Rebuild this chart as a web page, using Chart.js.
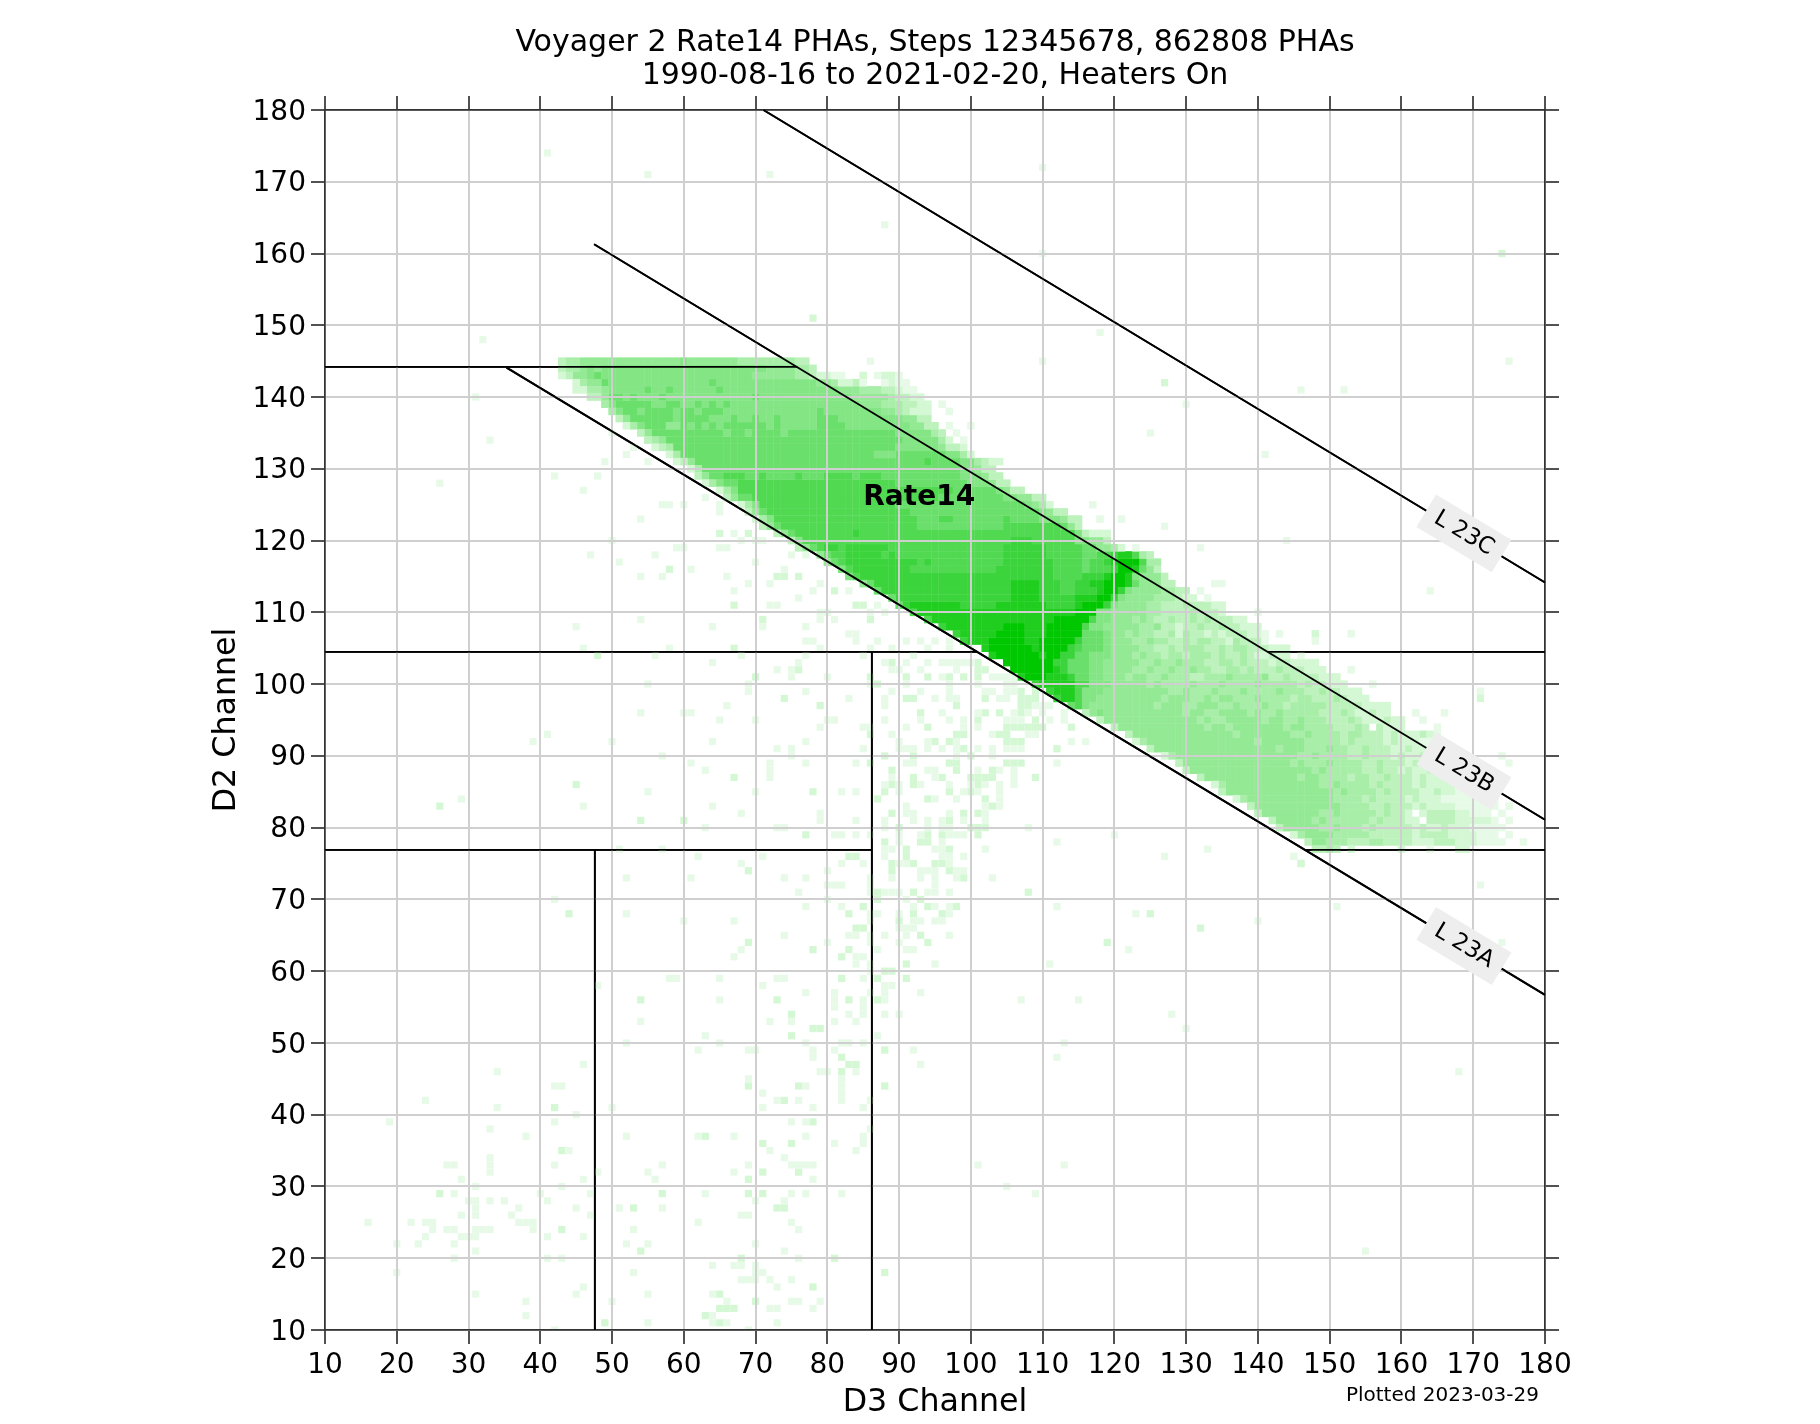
<!DOCTYPE html>
<html>
<head>
<meta charset="utf-8">
<title>Voyager 2 Rate14 PHAs</title>
<script src="https://cdn.jsdelivr.net/npm/chart.js@4/dist/chart.umd.js"></script>
<style>
    html, body { margin: 0; padding: 0; background: #fff; }
    canvas { display: block; }
</style>
</head>
<body>
<canvas id="chart" width="1820" height="1424"></canvas>
<script>
const titleLines = ["Voyager 2 Rate14 PHAs, Steps 12345678, 862808 PHAs", "1990-08-16 to 2021-02-20, Heaters On"];
const xAxisTitle = "D3 Channel";
const yAxisTitle = "D2 Channel";
const plottedNote = "Plotted 2023-03-29";

// colour of each count level, 0 = empty cell
const levelColors = [null, "#e7fae7", "#d4f7d4", "#bdf2bd", "#a8eea8", "#94e994", "#84e584", "#6bdf6b", "#52d952", "#3cd43c", "#20ce20", "#00c800"];

// band rows: y, then pairs of first x and level, 0 closes the run
const bandRuns = [
    [145, 43,3, 44,4, 46,5, 60,6, 61,5, 68,4, 76,3, 78,0],
    [144, 43,3, 44,4, 46,5, 47,6, 48,5, 49,6, 72,5, 76,4, 78,3, 79,0],
    [143, 43,2, 44,3, 45,5, 47,6, 48,7, 49,6, 70,5, 76,4, 78,3, 79,2, 81,1, 83,0, 85,2, 86,0, 87,1, 88,2, 90,1, 91,0],
    [142, 45,2, 46,4, 47,5, 49,7, 50,6, 64,7, 65,6, 79,5, 81,4, 82,2, 84,3, 85,1, 86,0, 88,1, 89,2, 90,1, 92,0],
    [141, 45,2, 47,4, 49,5, 50,6, 55,7, 56,6, 58,7, 59,6, 65,7, 66,6, 82,5, 85,4, 88,3, 90,2, 91,1, 93,0],
    [140, 47,3, 49,5, 50,7, 52,6, 53,7, 54,6, 57,7, 58,6, 70,7, 71,6, 84,5, 89,4, 90,3, 92,2, 94,0],
    [139, 49,4, 50,6, 51,7, 56,6, 58,7, 60,6, 62,7, 63,6, 64,7, 65,6, 66,7, 67,6, 85,5, 88,4, 91,3, 93,2, 95,0, 96,1, 97,0],
    [138, 50,4, 51,6, 52,7, 54,6, 55,7, 59,6, 60,7, 62,6, 63,7, 66,6, 79,7, 80,6, 88,5, 90,4, 91,3, 92,2, 95,0, 97,1, 98,0],
    [137, 51,3, 52,5, 53,7, 59,6, 60,7, 64,6, 67,7, 68,6, 70,7, 71,6, 73,7, 74,6, 79,7, 82,6, 91,5, 93,3, 95,0],
    [136, 52,2, 53,4, 54,6, 55,7, 58,5, 60,7, 61,6, 62,7, 63,6, 64,7, 65,6, 66,7, 72,6, 73,7, 74,6, 79,7, 83,6, 92,5, 94,3, 96,0, 97,1, 98,0, 100,1, 101,0],
    [135, 54,3, 55,5, 56,7, 66,6, 67,7, 69,6, 70,7, 74,6, 75,7, 90,6, 95,4, 96,3, 97,0, 98,1, 99,0],
    [134, 55,3, 56,4, 57,5, 58,7, 91,6, 96,4, 97,2, 98,0, 99,1, 100,0],
    [133, 56,2, 57,3, 58,4, 59,7, 90,6, 96,5, 97,3, 99,2, 100,0],
    [132, 58,2, 59,4, 60,7, 87,6, 90,7, 97,6, 99,4, 100,2, 101,0],
    [131, 59,2, 60,3, 61,5, 62,7, 94,8, 95,7, 99,6, 101,4, 102,3, 103,2, 105,0],
    [130, 61,2, 62,4, 63,7, 99,6, 101,5, 102,3, 104,0],
    [129, 62,3, 63,5, 64,7, 66,8, 69,7, 71,8, 72,7, 76,8, 77,7, 80,8, 84,7, 85,8, 88,7, 99,6, 102,5, 103,3, 105,0],
    [128, 63,2, 64,4, 65,6, 66,7, 68,8, 90,7, 100,6, 103,5, 104,3, 106,0],
    [127, 65,2, 66,4, 67,6, 68,8, 98,7, 104,6, 105,5, 106,3, 108,0],
    [126, 66,3, 67,5, 68,7, 70,8, 96,7, 105,6, 107,5, 109,3, 111,0],
    [125, 68,2, 69,4, 70,6, 71,8, 90,7, 108,6, 109,5, 110,4, 111,2, 112,0, 117,1, 118,0],
    [124, 69,3, 70,5, 71,7, 72,8, 92,7, 110,6, 111,5, 112,3, 114,0],
    [123, 70,2, 71,4, 72,6, 73,8, 93,7, 96,8, 98,7, 105,8, 106,7, 110,6, 113,5, 114,3, 116,0, 118,1, 119,0, 121,1, 122,0],
    [122, 71,3, 72,5, 73,7, 74,8, 93,7, 105,8, 113,7, 114,5, 115,3, 116,0],
    [121, 73,3, 74,5, 75,7, 76,8, 84,9, 85,8, 115,6, 116,3, 117,2, 120,0],
    [120, 75,3, 76,6, 77,8, 106,9, 109,8, 115,6, 117,5, 119,3, 120,0],
    [119, 76,3, 77,5, 78,7, 79,8, 80,9, 82,8, 83,9, 89,8, 105,9, 111,8, 116,7, 118,5, 120,4, 121,2, 122,0, 123,1, 124,0],
    [118, 79,5, 80,7, 81,8, 83,9, 88,8, 89,9, 90,8, 105,9, 111,8, 116,7, 118,8, 120,9, 121,10, 123,8, 124,4, 125,3, 126,0],
    [117, 80,5, 81,7, 82,8, 83,9, 93,8, 94,9, 95,8, 105,9, 112,8, 116,7, 117,8, 119,9, 120,10, 121,11, 124,8, 125,4, 127,0],
    [116, 82,6, 83,8, 84,9, 92,8, 104,9, 112,8, 116,7, 117,8, 120,9, 121,11, 123,10, 124,7, 125,5, 126,3, 127,0],
    [115, 83,6, 84,8, 85,9, 112,8, 116,9, 119,10, 120,11, 122,10, 123,6, 124,5, 127,3, 128,0],
    [114, 85,5, 86,7, 87,9, 106,10, 110,9, 113,8, 115,9, 117,10, 119,11, 122,10, 123,7, 124,5, 127,3, 129,0, 134,1, 135,0],
    [113, 87,7, 88,9, 106,10, 110,9, 113,8, 115,9, 118,10, 119,11, 121,9, 122,6, 123,5, 127,4, 129,3, 131,0, 132,1, 133,0],
    [112, 89,7, 90,9, 106,10, 110,9, 115,10, 118,11, 120,9, 121,6, 122,5, 126,4, 129,3, 130,2, 132,0, 133,1, 134,0],
    [111, 90,7, 91,9, 92,10, 99,9, 104,10, 111,9, 115,10, 116,11, 119,9, 120,6, 121,5, 125,4, 127,3, 130,4, 131,3, 134,2, 136,0],
    [110, 92,8, 93,10, 115,11, 118,6, 120,5, 125,4, 127,3, 131,4, 132,3, 135,2, 136,0, 140,1, 141,0],
    [109, 94,8, 95,10, 112,11, 117,8, 118,6, 120,5, 123,4, 124,5, 125,4, 126,3, 128,4, 129,3, 131,4, 132,3, 133,4, 134,3, 137,2, 139,0],
    [108, 96,9, 97,10, 105,11, 108,10, 111,11, 116,8, 117,6, 119,5, 124,4, 126,5, 127,3, 129,2, 130,3, 132,4, 133,3, 135,4, 136,3, 138,2, 141,0],
    [107, 98,9, 99,10, 104,11, 108,10, 111,11, 116,7, 119,6, 120,5, 122,4, 123,5, 124,4, 126,3, 128,4, 129,2, 130,4, 131,3, 133,2, 134,3, 135,2, 136,3, 139,2, 141,1, 142,0, 143,1, 144,0, 148,2, 149,0, 153,1, 154,0],
    [106, 99,9, 100,10, 103,11, 108,10, 110,11, 115,9, 116,7, 119,6, 120,5, 123,4, 125,5, 126,4, 128,3, 130,4, 131,3, 132,4, 134,3, 136,2, 137,4, 138,3, 141,1, 142,0, 148,1, 149,0],
    [105, 102,10, 103,11, 109,10, 110,11, 114,9, 115,8, 116,7, 119,6, 120,5, 124,4, 126,3, 128,4, 129,3, 130,4, 133,3, 135,4, 136,3, 137,4, 139,3, 142,2, 145,0],
    [104, 103,10, 104,11, 110,10, 111,11, 113,9, 115,7, 117,6, 120,5, 123,4, 124,5, 125,4, 127,3, 128,4, 130,3, 131,4, 134,3, 135,4, 136,3, 138,4, 139,3, 140,2, 142,3, 143,2, 145,0, 146,1, 147,0],
    [103, 105,11, 112,9, 114,7, 117,6, 119,5, 124,4, 126,5, 127,4, 129,5, 130,4, 133,3, 135,4, 137,3, 138,4, 139,3, 142,2, 143,3, 145,2, 149,0],
    [102, 106,11, 112,10, 113,9, 114,7, 117,6, 119,5, 123,4, 125,5, 126,4, 128,5, 129,4, 131,5, 132,4, 134,3, 136,4, 138,3, 139,4, 140,3, 143,4, 144,3, 147,2, 150,0, 153,1, 154,0],
    [101, 107,10, 108,11, 111,10, 114,9, 115,7, 117,6, 119,5, 122,4, 123,5, 125,4, 127,5, 128,4, 131,3, 133,4, 136,5, 137,4, 141,5, 142,3, 144,4, 145,3, 149,2, 152,0],
    [100, 109,9, 110,10, 115,8, 117,6, 120,5, 125,4, 126,5, 127,4, 131,5, 132,4, 135,5, 136,4, 140,5, 141,4, 146,3, 147,4, 148,3, 150,2, 153,0, 156,1, 157,0],
    [99, 111,9, 112,10, 115,8, 116,6, 119,5, 128,4, 130,5, 131,4, 134,5, 135,4, 138,5, 139,4, 143,5, 144,4, 147,3, 149,4, 150,3, 152,2, 155,0, 171,1, 172,0],
    [98, 112,9, 113,10, 115,8, 116,6, 118,5, 127,4, 128,5, 131,4, 133,5, 134,4, 135,5, 137,4, 140,5, 141,4, 145,3, 146,4, 148,3, 151,4, 152,3, 153,2, 156,0],
    [97, 114,7, 115,8, 116,6, 117,5, 126,4, 127,5, 130,4, 132,5, 135,4, 137,5, 138,4, 141,5, 142,4, 144,3, 145,4, 150,3, 155,2, 159,0],
    [96, 116,3, 117,5, 118,6, 119,5, 130,4, 131,5, 133,4, 135,5, 139,4, 140,5, 141,4, 143,5, 144,4, 149,3, 152,4, 153,3, 154,2, 156,3, 157,2, 159,0, 162,1, 163,0, 166,1, 167,0],
    [95, 118,3, 119,5, 132,4, 133,5, 134,4, 136,5, 141,4, 142,5, 144,4, 146,5, 147,4, 150,3, 153,4, 154,3, 155,2, 158,3, 159,2, 161,0, 163,1, 164,0],
    [94, 120,3, 121,5, 133,4, 134,5, 136,4, 137,5, 144,4, 145,5, 147,4, 151,3, 154,4, 155,3, 156,0, 157,3, 158,2, 161,0, 165,1, 166,0],
    [93, 122,3, 123,5, 137,4, 138,5, 145,4, 147,5, 148,4, 152,3, 153,4, 155,3, 158,2, 159,3, 160,2, 163,3, 164,2, 165,1, 166,0],
    [92, 123,2, 124,4, 125,5, 140,4, 141,5, 147,4, 152,3, 153,4, 154,3, 158,2, 159,3, 160,2, 163,1, 166,0],
    [91, 125,3, 126,5, 143,4, 144,5, 147,4, 150,5, 151,4, 153,3, 155,4, 156,3, 159,2, 161,3, 162,2, 164,1, 165,2, 166,0],
    [90, 127,2, 128,4, 129,5, 146,4, 148,5, 149,4, 153,3, 155,4, 156,3, 159,2, 160,3, 161,2, 163,3, 164,2, 167,1, 168,0, 174,1, 175,0],
    [89, 129,3, 130,5, 145,4, 146,5, 147,4, 150,5, 151,4, 155,3, 157,4, 158,3, 161,2, 162,3, 163,2, 166,1, 169,0],
    [88, 130,3, 131,5, 148,4, 149,5, 150,4, 155,3, 157,4, 158,3, 160,2, 161,3, 162,2, 164,3, 165,2, 168,1, 171,0],
    [87, 132,3, 133,5, 146,4, 147,5, 149,4, 153,3, 154,4, 156,3, 158,4, 159,3, 162,2, 163,3, 164,2, 168,1, 172,0],
    [86, 134,2, 135,4, 136,5, 149,4, 151,5, 152,4, 156,3, 157,4, 158,3, 162,2, 163,3, 164,2, 168,1, 173,0],
    [85, 135,3, 136,5, 151,4, 152,5, 153,4, 157,3, 158,4, 159,3, 163,2, 165,3, 166,2, 168,1, 173,0],
    [84, 137,2, 138,4, 139,5, 151,4, 155,3, 156,4, 157,3, 161,2, 162,3, 163,2, 166,1, 174,0],
    [83, 139,3, 140,5, 152,4, 156,3, 158,4, 159,3, 162,2, 163,3, 164,2, 168,1, 174,0, 175,1, 176,0],
    [82, 140,3, 141,5, 149,4, 151,5, 152,4, 157,3, 158,4, 159,3, 161,2, 162,0, 163,2, 164,3, 168,2, 170,1, 173,0, 174,1, 175,0],
    [81, 142,3, 143,5, 148,4, 149,5, 150,4, 156,3, 157,4, 158,3, 161,2, 163,0, 164,3, 168,2, 173,1, 174,0, 175,1, 176,0],
    [80, 143,3, 144,5, 149,4, 151,5, 152,4, 155,3, 156,4, 157,3, 162,2, 163,3, 164,2, 166,3, 167,2, 170,1, 175,0],
    [79, 145,2, 146,4, 147,5, 151,4, 156,3, 162,2, 163,3, 167,2, 171,1, 174,0, 175,1, 176,0],
    [78, 147,3, 148,5, 150,4, 153,3, 156,4, 158,3, 162,2, 165,3, 168,2, 171,1, 175,0, 177,1, 178,0],
    [77, 148,3, 150,4, 151,3, 152,0, 153,2, 154,0, 160,2, 161,0, 164,1, 165,0, 168,2, 170,0],
    [76, 145,1, 146,0],
    [75, 146,2, 147,0],
];

// scattered single cells, each row is y then the x values
const faintCells = [
    [174, 41], [172, 110], [171, 55, 72], [164, 88], [160, 110], [149, 118], [148, 32],
    [145, 86, 110, 175], [141, 146, 152], [140, 31], [139, 130], [135, 125, 50], [134, 33], [133, 53], [132, 141, 52],
    [131, 49, 55], [129, 42, 48], [128, 26], [127, 46], [126, 63], [125, 57, 58, 60, 65], [124, 65], [123, 54],
    [122, 127], [121, 67], [120, 50, 68, 70, 71, 144], [119, 59, 60, 65, 66, 132], [118, 47, 56, 75, 77],
    [117, 51, 70], [116, 61, 74], [115, 54, 57, 66], [114, 69, 72, 79, 135], [113, 67, 78, 83, 164], [112, 76],
    [111, 72, 73, 87], [110, 79, 80, 86, 88], [109, 54, 79, 81], [108, 45, 64, 71, 77], [107, 83, 84],
    [106, 77, 78, 84, 87, 91, 93, 95, 97], [105, 46, 58, 79, 86, 89, 94, 97], [104, 56, 68, 77, 85, 92],
    [103, 64, 76, 88, 91, 94, 96, 97, 98, 99, 100], [102, 73, 75, 89, 90, 93, 98],
    [101, 75, 80, 96, 103, 104, 105, 106], [100, 55, 69, 86, 91, 97, 101, 105, 106],
    [99, 69, 77, 89, 93, 97, 102, 103, 105, 106], [98, 83, 88, 95, 97, 98, 104, 105],
    [97, 66, 88, 109, 110, 111], [96, 54, 60, 61, 96, 101, 106, 108, 110, 113],
    [95, 65, 70, 80, 81, 88, 93, 97, 99, 105, 106, 107, 111, 113], [94, 79, 85, 86, 91, 99, 101],
    [93, 41, 89, 103, 108, 109], [92, 39, 50, 64, 77, 90, 94, 98, 114, 116],
    [91, 73, 75, 85, 90, 91, 92, 94, 96, 98, 101, 103, 105, 106, 107], [90, 57, 75, 98, 103],
    [89, 61, 72, 77, 84, 91, 92, 112, 175], [88, 63, 72, 94, 95, 101, 104, 106], [87, 72, 89, 95, 106],
    [86, 88, 90, 93, 97, 100, 102, 104, 106], [85, 55, 70, 82, 84, 90, 99, 101, 104], [84, 29, 95, 98, 104],
    [83, 46, 64, 91, 102, 104], [82, 68, 79, 91, 92, 97, 102], [81, 79, 84, 88, 92, 94, 96, 99, 102],
    [80, 63, 73, 74, 88, 94, 96, 97, 108], [79, 81, 82, 84, 86, 90, 93, 97, 98, 99, 120], [78, 90, 96, 112],
    [77, 51, 57, 88, 89, 95, 96, 102, 133], [76, 62, 71, 88, 96, 97, 99, 127], [75, 68, 82, 85, 90, 91, 97],
    [74, 80, 93, 94, 95, 98, 99], [73, 52, 61, 74, 77, 86, 89, 93, 95, 98, 103], [72, 80, 81, 82, 86, 95, 171],
    [71, 76, 86, 88, 89, 90, 94, 95, 97], [70, 42, 80, 91], [69, 77, 82, 92, 95, 97, 112, 151],
    [68, 52, 86, 87, 90, 97, 123], [67, 60, 67, 86, 92, 93, 95, 96, 140], [66, 91, 90, 92],
    [65, 74, 83, 84, 86, 88, 91, 97], [64, 80, 86, 90, 174], [63, 68, 87, 91, 92, 122], [62, 67, 84, 85],
    [61, 84, 86, 95, 111], [60, 86], [59, 58, 59, 65, 73, 74, 85], [58, 48, 71, 88, 89], [57, 77, 81, 86, 88, 93],
    [56, 65, 81, 85, 88, 107, 115], [55, 81, 85], [54, 83, 85, 88, 90, 128], [53, 54, 72, 75, 81, 84], [52, 130],
    [51, 63, 87], [50, 52, 65, 77, 82, 83, 85, 113], [49, 62, 69, 70, 78, 81, 92], [48, 78, 112], [47, 46, 93],
    [46, 34, 79, 80, 84, 168], [45, 69, 82], [44, 42, 43, 77, 82], [43, 71, 82], [42, 24, 73, 76, 82, 86],
    [41, 34, 50, 71, 78, 85], [40, 45], [39, 19, 42, 75, 77], [38, 33, 86], [37, 38, 52, 62, 67, 77, 85],
    [36, 81, 85], [35, 44, 72, 84], [34, 33, 74], [33, 27, 28, 33, 42, 57, 69, 75, 76, 77, 78, 101, 113],
    [32, 33, 48, 55, 67], [31, 29, 46, 56, 78], [30, 31, 43, 105], [29, 28, 40, 47, 63, 75, 77, 82, 109],
    [28, 30, 31, 33, 35, 41, 70, 74], [27, 31, 37, 45, 51, 57], [26, 29, 31, 36, 47, 68, 69],
    [25, 16, 22, 24, 25, 37, 38, 39, 62, 75], [24, 25, 27, 28, 31, 32, 33, 39, 53, 76], [23, 24, 29, 30, 31, 41, 46],
    [22, 20, 23, 28, 52, 55, 70], [21, 31, 74, 155], [20, 28, 41, 43, 76], [19, 64, 67, 68, 70], [18, 20, 53, 70, 71],
    [17, 68, 69, 70, 72, 75], [16, 46, 73], [15, 31, 45, 55, 64], [14, 38, 50, 66, 75, 76, 79], [13, 72, 73, 78],
    [12, 38, 64], [11, 55, 64, 66, 73], [10, 42, 69],
];
const paleCells = [
    [160, 174], [151, 78], [142, 127], [121, 65, 69], [116, 58], [115, 73, 74, 76], [113, 81], [111, 67, 84, 85],
    [109, 71, 86], [105, 67], [104, 48], [103, 89, 101], [102, 76, 101, 102], [101, 70, 86, 91, 94, 97, 99, 101],
    [100, 87], [99, 107, 109], [98, 74, 91, 92, 102, 107, 108, 109, 171], [97, 79, 98, 107, 108],
    [96, 93, 102, 104, 107], [95, 101, 109], [94, 94, 105, 106, 107, 108, 109, 110, 114], [93, 86, 98, 99, 104, 105],
    [92, 95, 97, 105, 106, 107], [91, 99, 112], [90, 88, 92, 100], [89, 86, 97, 98, 105, 106, 107],
    [88, 89, 98, 103], [87, 67, 92, 96, 100, 101, 102, 103, 109], [86, 45, 89, 92, 101], [85, 78, 88, 97, 100],
    [84, 87, 94, 102], [83, 26, 103], [82, 89, 99, 101], [81, 54, 60, 97], [80, 90, 100, 101, 102],
    [79, 77, 94, 96, 101], [78, 88, 93, 94], [77, 91, 97], [76, 83, 84, 91], [75, 89, 92, 95, 96], [74, 69, 89, 97],
    [73, 99], [71, 87, 92, 108], [70, 87, 93], [69, 85, 94, 98], [68, 44, 83, 92, 96, 125], [67, 90],
    [66, 84, 85, 132], [65, 93], [64, 69, 94, 119], [63, 78, 83], [62, 82], [61, 91], [60, 88, 89],
    [59, 82, 87, 91], [56, 54, 73, 83, 87], [54, 75], [52, 78, 79], [51, 75], [49, 88], [48, 82], [47, 83, 84],
    [46, 82], [44, 69, 76, 88], [42, 74], [41, 42], [39, 78], [37, 63], [36, 71, 75], [35, 43], [32, 71, 76],
    [31, 69], [29, 26, 57, 69, 71], [27, 53, 73, 74], [24, 43], [21, 54], [20, 68, 81], [18, 88], [16, 78], [15, 65],
    [14, 70], [13, 65, 66, 67], [12, 63], [11, 49, 65],
];

// discriminator lines, as x pair and y pair
const lineL23A = { x: [35.3, 180], y: [144.1, 56.7] };
const lineL23B = { x: [47.5, 180], y: [161.3, 81.1] };
const lineL23C = { x: [71.1, 180], y: [180, 114.15] };
const extraLines = [
    { x: [10, 75.8], y: [144.2, 144.2] },
    { x: [10, 100.9], y: [104.5, 104.5] },
    { x: [141.4, 180], y: [104.5, 104.5] },
    { x: [10, 86.2], y: [76.9, 76.9] },
    { x: [146.5, 180], y: [76.9, 76.9] },
    { x: [86.2, 86.2], y: [104.5, 10] },
    { x: [47.6, 47.6], y: [76.9, 10] },
];
const lineLabels = [
    { text: "L 23A", x: 168.7, y: 63.5 },
    { text: "L 23B", x: 168.7, y: 87.9 },
    { text: "L 23C", x: 168.7, y: 121 },
];
const regionLabel = { text: "Rate14", x: 92.8, y: 126 };

const FONT = "'DejaVu Sans'";

function buildCellDatasets() {
    const bandCells = levelColors.map(() => []);
    bandRuns.forEach((row) => {
        const y = row[0];
        for (let i = 1; i < row.length - 2; i += 2) {
            for (let x = row[i]; x < row[i + 2]; x += 1) {
                if (row[i + 1] > 0) bandCells[row[i + 1]].push({ x, y });
            }
        }
    });

    const datasets = [];
    const addSparse = (rows, level) => {
        const data = [];
        rows.forEach((row) => row.slice(1).forEach((x) => data.push({ x, y: row[0] })));
        datasets.push(cellDataset(data, level, 5.08));
    };
    addSparse(faintCells, 1);
    addSparse(paleCells, 2);
    // band cells overlap a hair so no white seams show between them
    bandCells.forEach((data, level) => {
        if (level > 0) datasets.push(cellDataset(data, level, 5.35));
    });
    return datasets;
}

function cellDataset(data, level, radius) {
    return {
        label: `level ${level}`,
        data,
        showLine: false,
        pointStyle: "rect",
        pointRadius: radius,
        pointHoverRadius: radius,
        pointBorderWidth: 0,
        pointBackgroundColor: levelColors[level],
        backgroundColor: levelColors[level],
    };
}

function lineDataset(line) {
    return {
        label: "line",
        isGuide: true,
        data: line.x.map((x, i) => ({ x, y: line.y[i] })),
        showLine: true,
        borderColor: "#000",
        borderWidth: 1.8,
        pointRadius: 0,
        fill: false,
    };
}

// grid sits above the cells, so guides and labels go back on top of it
const overlayPlugin = {
    id: "overlay",
    beforeDraw(chart) {
        // y tick digits sit a little high with the middle baseline
        chart.scales.y.getLabelItems().forEach((item) => {
            item.options.translation[1] += 2.3;
        });
    },
    afterDraw(chart) {
        const { ctx, scales } = chart;
        chart.data.datasets.forEach((dataset, i) => {
            if (dataset.isGuide) chart.getDatasetMeta(i).controller.draw();
        });

        ctx.save();
        ctx.textAlign = "center";
        ctx.textBaseline = "middle";
        ctx.fillStyle = "#000";
        ctx.font = `bold 28px ${FONT}`;
        ctx.fillText(regionLabel.text, scales.x.getPixelForValue(regionLabel.x), scales.y.getPixelForValue(regionLabel.y));

        lineLabels.forEach((label) => {
            ctx.save();
            ctx.translate(scales.x.getPixelForValue(label.x), scales.y.getPixelForValue(label.y));
            ctx.rotate(31 * Math.PI / 180);
            ctx.fillStyle = "#eeeeee";
            ctx.fillRect(-44, -19, 88, 38);
            ctx.fillStyle = "#000";
            ctx.font = `23px ${FONT}`;
            ctx.fillText(label.text, 0, 0);
            ctx.restore();
        });

        ctx.textAlign = "right";
        ctx.font = `20px ${FONT}`;
        ctx.fillText(plottedNote, chart.chartArea.right - 6, 1396);
        ctx.restore();
    },
};

function axisOptions(position, showLabels, gridOnArea, title, size) {
    return {
        type: "linear",
        position,
        min: 10,
        max: 180,
        grid: {
            display: true,
            drawOnChartArea: gridOnArea,
            drawTicks: true,
            tickLength: 14,
            tickWidth: 1.7,
            tickColor: "#333",
            color: "#cfcfcf",
            lineWidth: 2,
            z: 1,
        },
        border: { display: true, color: "#333", width: 1.7, z: 2 },
        ticks: {
            display: showLabels,
            stepSize: 10,
            autoSkip: false,
            maxRotation: 0,
            color: "#000",
            padding: 5,
            font: { family: FONT, size: 28 },
        },
        title,
        afterFit(scale) {
            if (scale.isHorizontal()) scale.height = size;
            else scale.width = size;
        },
    };
}

const chart = new Chart(document.getElementById("chart"), {
    type: "scatter",
    data: {
        datasets: [
            ...buildCellDatasets(),
            lineDataset(lineL23A),
            lineDataset(lineL23B),
            lineDataset(lineL23C),
            ...extraLines.map(lineDataset),
        ],
    },
    options: {
        responsive: false,
        animation: false,
        devicePixelRatio: 1,
        layout: { padding: 0 },
        events: [],
        plugins: {
            legend: { display: false },
            tooltip: { enabled: false },
            title: {
                display: true,
                fullSize: false,
                text: titleLines,
                color: "#000",
                font: { family: FONT, size: 30, weight: "normal", lineHeight: 1.12 },
                padding: { top: 26, bottom: 1.8 },
            },
        },
        scales: {
            x: axisOptions("bottom", true, true, {
                display: true,
                text: xAxisTitle,
                color: "#000",
                font: { family: FONT, size: 31.7 },
                padding: { top: 0, bottom: 2 },
            }, 94),
            y: axisOptions("left", true, true, {
                display: true,
                text: yAxisTitle,
                color: "#000",
                font: { family: FONT, size: 31.7 },
                padding: { top: 207.5, bottom: 0 },
            }, 325),
            x2: axisOptions("top", false, false, { display: false }, 15),
            y2: axisOptions("right", false, false, { display: false }, 275),
        },
    },
    plugins: [overlayPlugin],
});
</script>
</body>
</html>
